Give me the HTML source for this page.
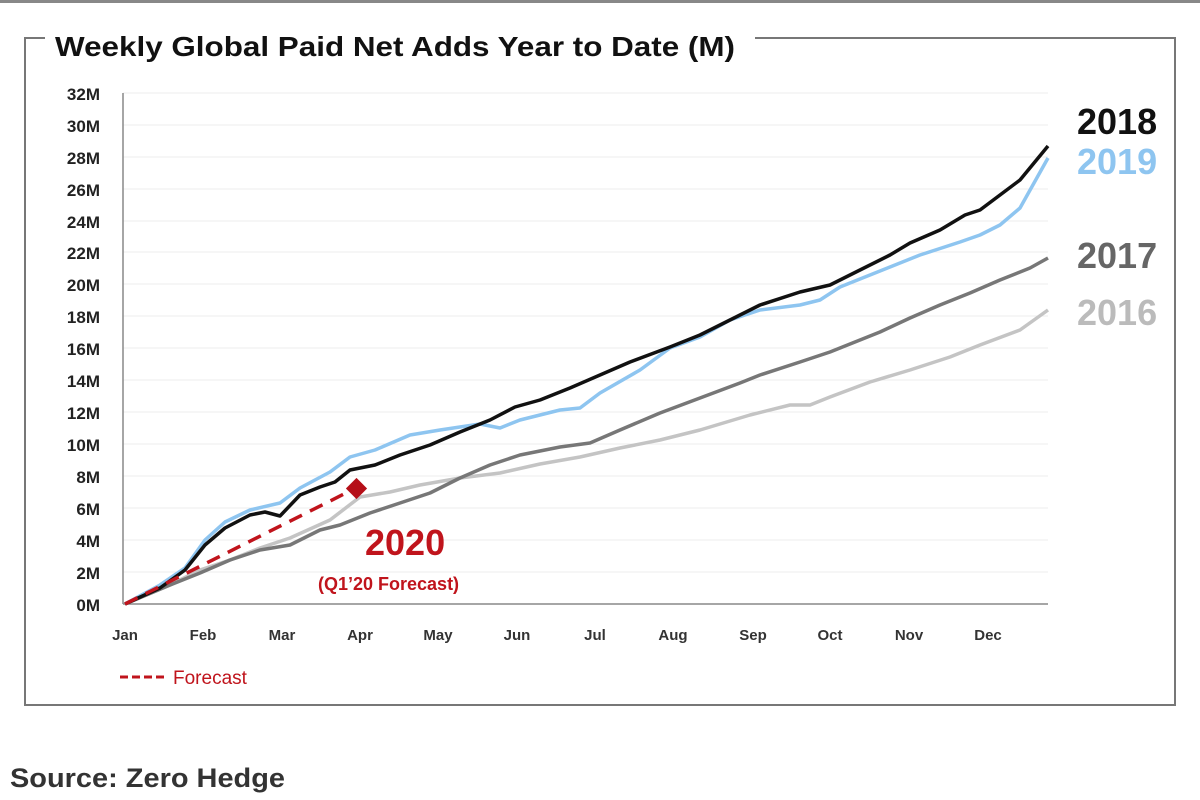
<!DOCTYPE html>
<html><head><meta charset="utf-8"><style>
html,body{margin:0;padding:0;background:#fff;width:1200px;height:800px;overflow:hidden}
svg{display:block}
</style></head><body>
<svg width="1200" height="800" viewBox="0 0 1200 800" font-family="Liberation Sans, sans-serif">
<rect x="0" y="0" width="1200" height="3" fill="#888"/>
<path d="M45 38 H25 V705 H1175 V38 H755" fill="none" stroke="#777" stroke-width="2"/>
<text x="55" y="56" font-size="28" font-weight="bold" fill="#111" textLength="680" lengthAdjust="spacingAndGlyphs">Weekly Global Paid Net Adds Year to Date (M)</text>
<g stroke="#eee" stroke-width="1">
<line x1="123" y1="93" x2="1048" y2="93"/><line x1="123" y1="125" x2="1048" y2="125"/><line x1="123" y1="157" x2="1048" y2="157"/><line x1="123" y1="189" x2="1048" y2="189"/><line x1="123" y1="221" x2="1048" y2="221"/><line x1="123" y1="252" x2="1048" y2="252"/><line x1="123" y1="284" x2="1048" y2="284"/><line x1="123" y1="316" x2="1048" y2="316"/><line x1="123" y1="348" x2="1048" y2="348"/><line x1="123" y1="380" x2="1048" y2="380"/><line x1="123" y1="412" x2="1048" y2="412"/><line x1="123" y1="444" x2="1048" y2="444"/><line x1="123" y1="476" x2="1048" y2="476"/><line x1="123" y1="508" x2="1048" y2="508"/><line x1="123" y1="540" x2="1048" y2="540"/><line x1="123" y1="572" x2="1048" y2="572"/>
</g>
<g stroke="#888" stroke-width="1.5">
<line x1="123" y1="93" x2="123" y2="604"/><line x1="123" y1="604" x2="1048" y2="604"/>
</g>
<g font-size="17" font-weight="bold" fill="#222" text-anchor="end">
<text x="100" y="100">32M</text><text x="100" y="132">30M</text><text x="100" y="164">28M</text><text x="100" y="196">26M</text><text x="100" y="228">24M</text><text x="100" y="259">22M</text><text x="100" y="291">20M</text><text x="100" y="323">18M</text><text x="100" y="355">16M</text><text x="100" y="387">14M</text><text x="100" y="419">12M</text><text x="100" y="451">10M</text><text x="100" y="483">8M</text><text x="100" y="515">6M</text><text x="100" y="547">4M</text><text x="100" y="579">2M</text><text x="100" y="611">0M</text>
</g>
<g font-size="15" font-weight="bold" fill="#333" text-anchor="middle">
<text x="125" y="640">Jan</text><text x="203" y="640">Feb</text><text x="282" y="640">Mar</text><text x="360" y="640">Apr</text><text x="438" y="640">May</text><text x="517" y="640">Jun</text><text x="595" y="640">Jul</text><text x="673" y="640">Aug</text><text x="753" y="640">Sep</text><text x="830" y="640">Oct</text><text x="909" y="640">Nov</text><text x="988" y="640">Dec</text>
</g>
<g fill="none" stroke-width="3.5" stroke-linejoin="round">
<polyline stroke="#c4c4c4" points="125,604 170,585 200,570 230,560 260,548 290,538 330,520 360,497 390,492 420,485 460,478 500,473 540,464 580,457 620,448 660,440 700,430 750,415 790,405 810,405 830,397 870,382 910,370 950,357 980,345 1020,330 1048,310"/>
<polyline stroke="#777" points="125,604 170,585 200,573 230,560 260,550 290,545 320,530 340,525 370,513 400,503 430,493 460,478 490,465 520,455 560,447 590,443 620,430 660,413 700,398 740,383 760,375 800,362 830,352 860,340 880,332 910,318 940,305 970,293 1000,280 1030,268 1048,258"/>
<polyline stroke="#8ec5f0" points="125,604 160,585 185,568 205,540 225,522 250,510 280,503 300,488 330,472 350,457 375,450 410,435 440,430 480,424 500,428 520,420 560,410 580,408 600,393 640,370 670,348 700,337 730,320 760,310 800,305 820,300 840,287 870,275 890,267 920,255 960,242 980,235 1000,225 1020,208 1048,158"/>
<polyline stroke="#111" points="125,604 160,588 185,570 205,545 225,528 250,515 265,512 280,516 300,495 320,487 335,482 350,470 375,465 400,455 430,445 460,432 490,420 515,407 540,400 570,388 600,375 630,362 670,347 700,335 730,320 760,305 800,292 830,285 860,270 890,255 910,243 940,230 965,215 980,210 1000,195 1020,180 1048,146"/>
<line x1="125" y1="604" x2="352" y2="490" stroke="#c0141c" stroke-dasharray="14,9"/>
</g>
<rect x="349" y="481" width="15" height="15" fill="#b50f18" transform="rotate(45 356.5 488.5)"/>
<text x="365" y="555" font-size="36" font-weight="bold" fill="#c0141c">2020</text>
<text x="318" y="590" font-size="18" font-weight="bold" fill="#c0141c">(Q1’20 Forecast)</text>
<line x1="120" y1="677" x2="166" y2="677" stroke="#c0141c" stroke-width="3" stroke-dasharray="8,4"/>
<text x="173" y="684" font-size="19" fill="#c0141c">Forecast</text>
<g font-size="36" font-weight="bold">
<text x="1077" y="134" fill="#111">2018</text>
<text x="1077" y="174" fill="#8ec5f0">2019</text>
<text x="1077" y="268" fill="#666">2017</text>
<text x="1077" y="325" fill="#bbb">2016</text>
</g>
<text x="10" y="787" font-size="27" font-weight="bold" fill="#333" textLength="275" lengthAdjust="spacingAndGlyphs">Source: Zero Hedge</text>
</svg>
</body></html>
